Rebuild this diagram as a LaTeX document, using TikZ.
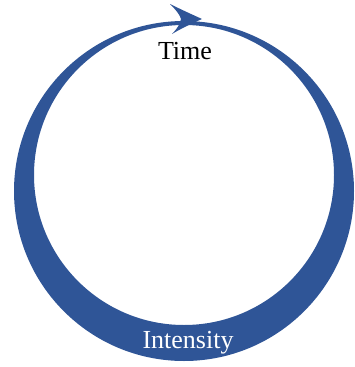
\documentclass[tikz,border=0pt]{standalone}
\usepackage{fontspec}
\setmainfont{Liberation Serif}
\definecolor{ringblue}{RGB}{47,85,151}
\begin{document}
\begin{tikzpicture}[x=1pt,y=-1pt]
\tikzset{lbl/.style={font=\fontsize{26}{29}\selectfont, inner sep=0pt}}
\useasboundingbox (0,0) rectangle (354,367);
\fill[ringblue, even odd rule] (184,191) circle[radius=170] (184,175) circle[radius=150];
\fill[ringblue] (202,19) .. controls (191,14) and (180,9) .. (170,4)
  .. controls (176,10) and (180,15) .. (181,19)
  .. controls (180,24) and (177,29) .. (172,34)
  .. controls (182,28) and (193,23) .. (202,19) -- cycle;
\node[lbl] (time) at (185,51) {Time};
\node[lbl, text=white] (intensity) at (188,343) {Intensity};
\end{tikzpicture}
\end{document}
